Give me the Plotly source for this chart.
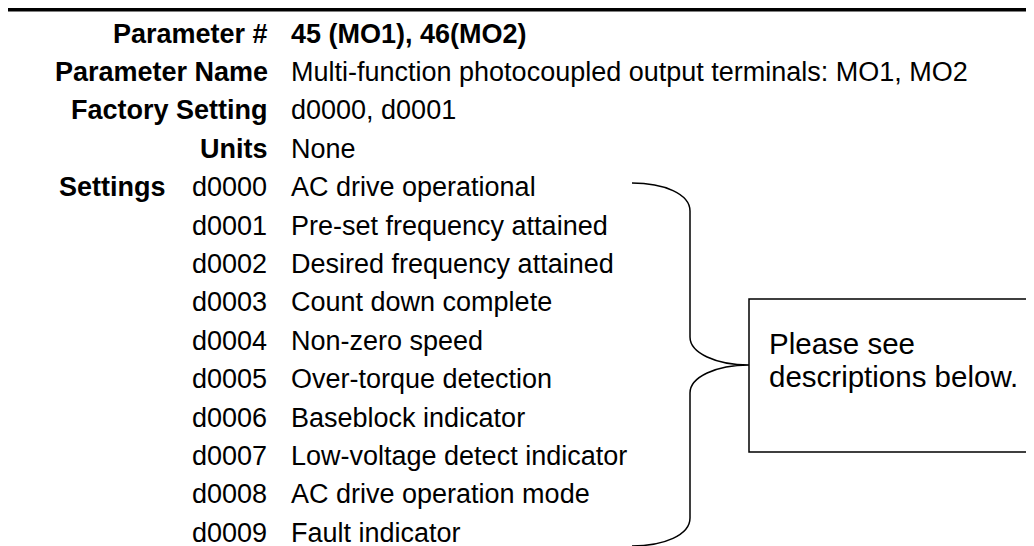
import plotly.graph_objects as go

# ---- content ----
header_labels = ["Parameter #", "Parameter Name", "Factory Setting", "Units"]
header_values = ["45 (MO1), 46(MO2)",
                 "Multi-function photocoupled output terminals: MO1, MO2",
                 "d0000, d0001",
                 "None"]
settings_label = "Settings"
setting_codes = ["d0000", "d0001", "d0002", "d0003", "d0004",
                 "d0005", "d0006", "d0007", "d0008", "d0009"]
setting_descs = ["AC drive operational",
                 "Pre-set frequency attained",
                 "Desired frequency attained",
                 "Count down complete",
                 "Non-zero speed",
                 "Over-torque detection",
                 "Baseblock indicator",
                 "Low-voltage detect indicator",
                 "AC drive operation mode",
                 "Fault indicator"]
note_lines = ["Please see", "descriptions below."]

# ---- layout constants ----
W, H = 1034, 546
FONT = "Arial, Liberation Sans, Helvetica, sans-serif"
FS = 27
ROW0, ROWH = 25.5, 38.4
LABEL_RIGHT = 260
VALUE_LEFT = 283
SET_RIGHT = 158
CODE_LEFT = 184

def row_y(i):
    return ROW0 + ROWH * i

fig = go.Figure()
annotations = []

def txt(x, y, s, anchor, bold=False, size=FS):
    annotations.append(dict(
        x=x, y=y, xref="x", yref="y", text=f"<b>{s}</b>" if bold else s,
        showarrow=False, xanchor=anchor, yanchor="middle",
        font=dict(family=FONT, size=size, color="black"),
        borderpad=0, borderwidth=0))

for i, (lab, val) in enumerate(zip(header_labels, header_values)):
    txt(LABEL_RIGHT, row_y(i), lab, "right", bold=True)
    txt(VALUE_LEFT, row_y(i), val, "left", bold=(i == 0))

base = len(header_labels)
txt(SET_RIGHT, row_y(base), settings_label, "right", bold=True)
for j, (c, d) in enumerate(zip(setting_codes, setting_descs)):
    txt(CODE_LEFT, row_y(base + j), c, "left")
    txt(VALUE_LEFT, row_y(base + j), d, "left")

# note box text
txt(761, 335, note_lines[0], "left", size=29.5)
txt(761, 368, note_lines[1], "left", size=29.5)

shapes = [
    # top rule (thick)
    dict(type="rect", xref="x", yref="y", x0=0, x1=W, y0=0, y1=3.5,
         fillcolor="black", line=dict(width=0)),
    # bottom rule
    dict(type="line", xref="x", yref="y", x0=7, x1=W, y0=544.5, y1=544.5,
         line=dict(color="black", width=1.5)),
    # note box
    dict(type="rect", xref="x", yref="y", x0=741, x1=1028, y0=291, y1=444,
         line=dict(color="black", width=1.5), fillcolor="rgba(0,0,0,0)"),
    # curly brace
    dict(type="path", xref="x", yref="y",
         path=("M 624,175 C 656,175 682,186 682,203 L 682,329 "
               "C 682,345 708,357 741,357 "
               "C 708,357 682,369 682,385 L 682,510 "
               "C 682,527 656,538 624,538"),
         line=dict(color="black", width=1.5)),
]

fig.update_layout(
    width=W, height=H,
    margin=dict(l=0, r=0, t=0, b=0),
    paper_bgcolor="white", plot_bgcolor="white",
    xaxis=dict(range=[0, W], visible=False, fixedrange=True),
    yaxis=dict(range=[H, 0], visible=False, fixedrange=True),
    annotations=annotations, shapes=shapes, showlegend=False,
)

fig.write_html("out.html", config={"displayModeBar": False})
